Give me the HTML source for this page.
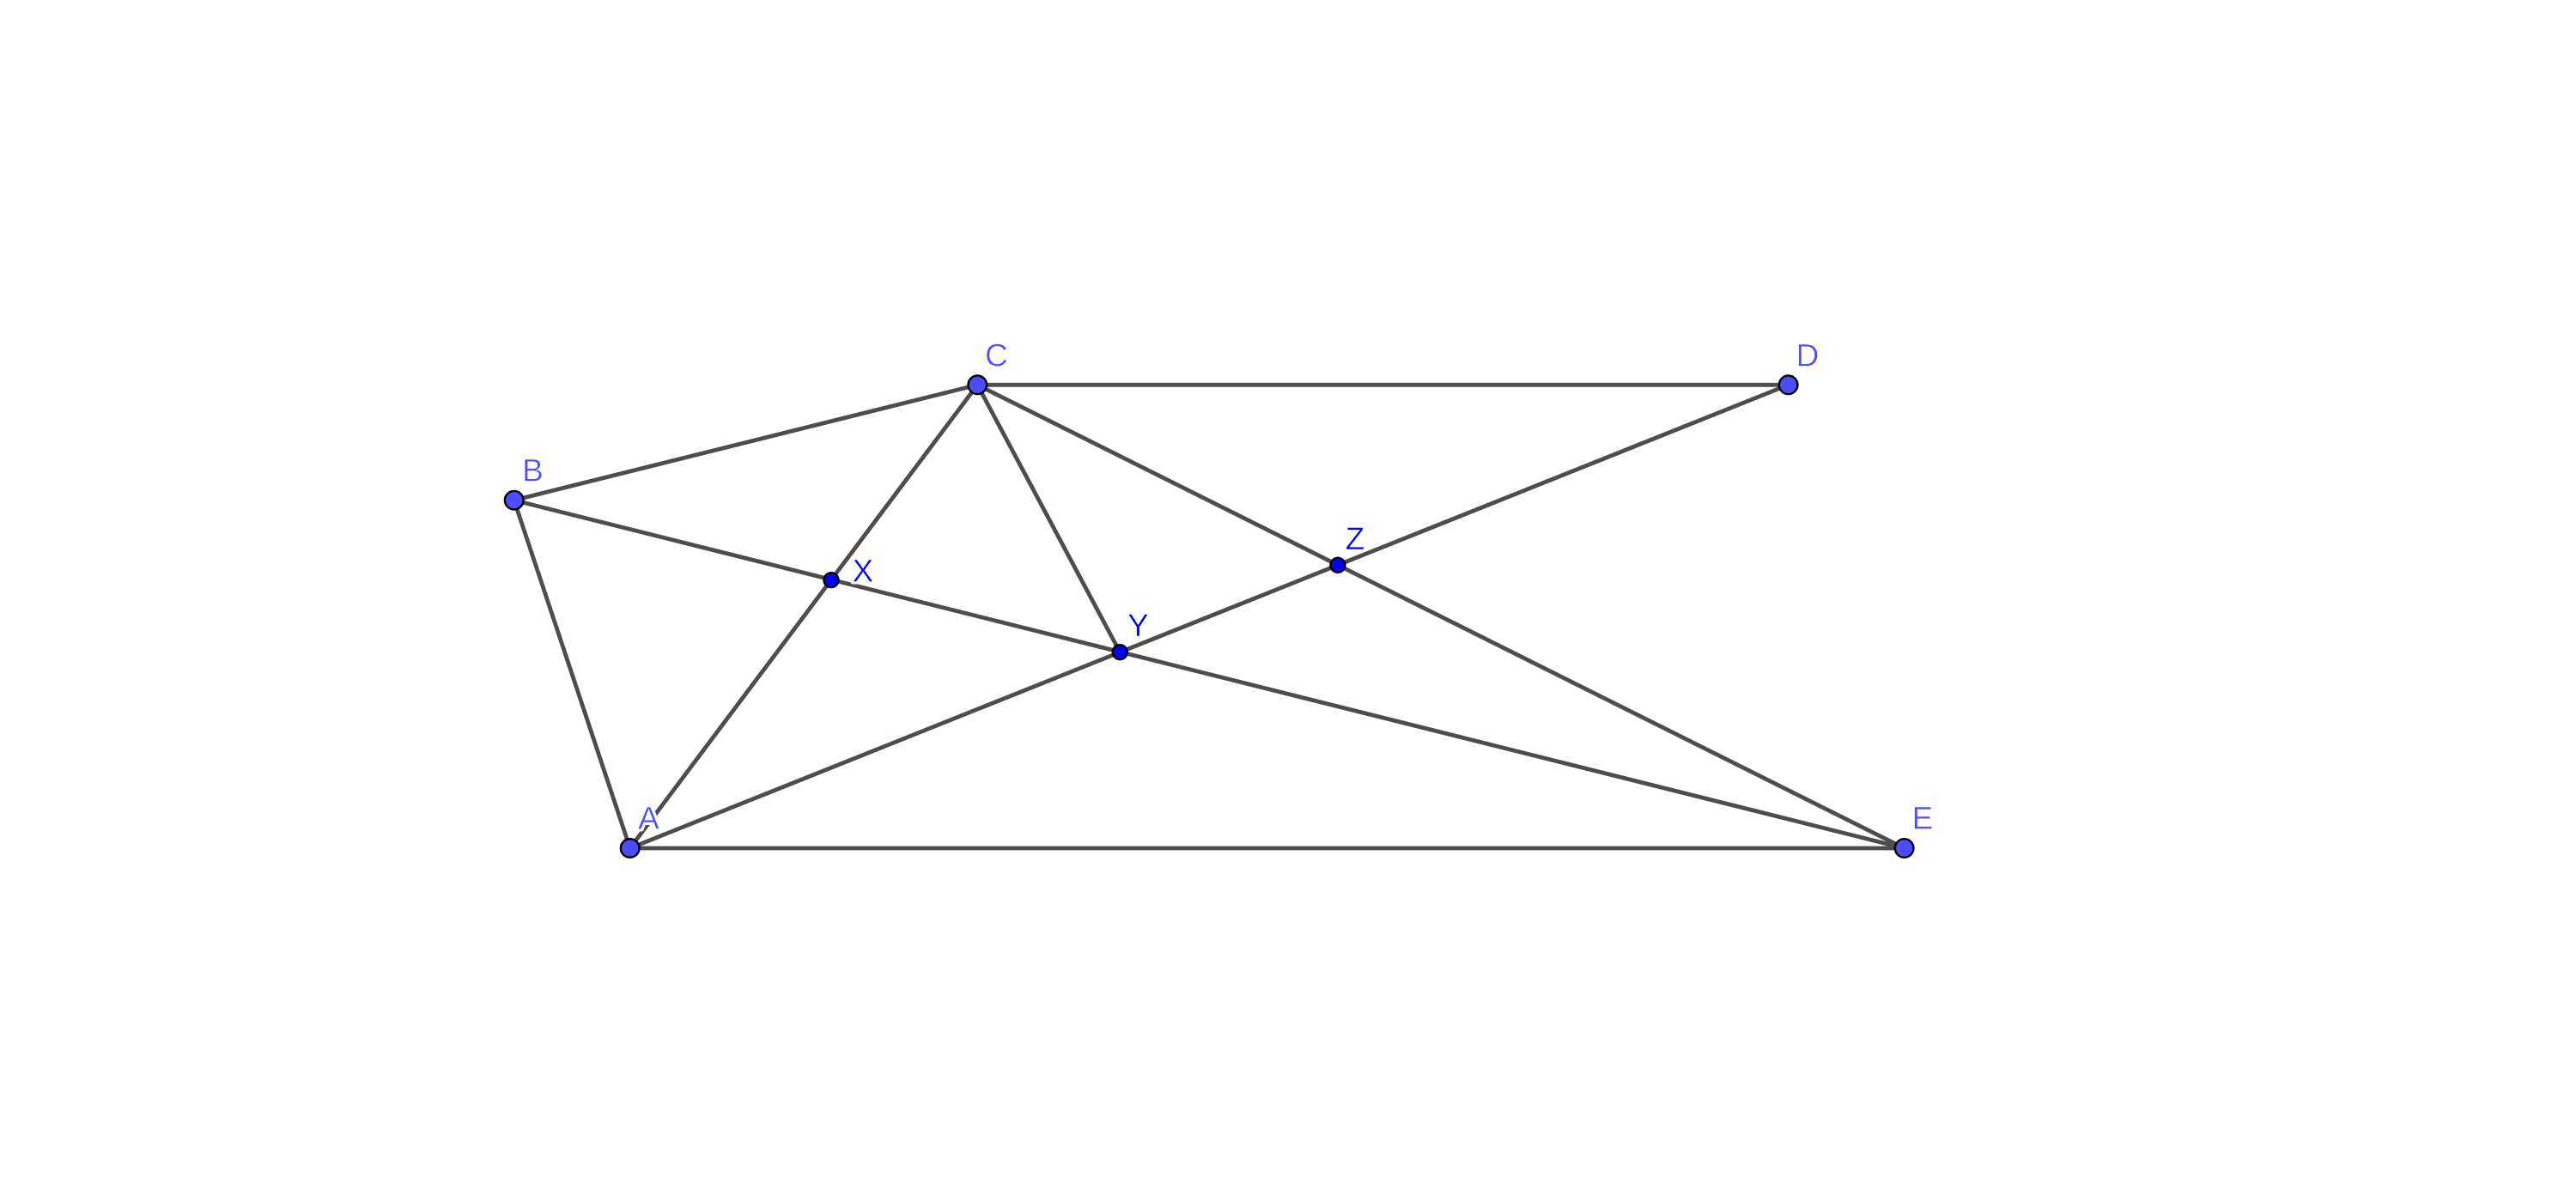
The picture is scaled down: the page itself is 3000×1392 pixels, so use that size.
<!DOCTYPE html>
<html>
<head>
<meta charset="utf-8">
<style>
html,body{margin:0;padding:0;background:#fff;width:3000px;height:1392px;overflow:hidden}
svg{display:block}
text{font-family:"Liberation Sans",sans-serif;font-size:37px;text-anchor:middle}
.h{fill:#fff;stroke:#fff;stroke-width:6px;stroke-linejoin:round}
.a{fill:#4d4dff;stroke:#fff;stroke-width:.5px;paint-order:fill stroke}
.b{fill:#0000ff;stroke:#fff;stroke-width:.5px;paint-order:fill stroke}
line{stroke:#4d4d4d;stroke-width:4.8px}
circle{stroke:#000;stroke-width:2.4px}
</style>
</head>
<body>
<svg width="3000" height="1392" viewBox="0 0 3000 1392" xmlns="http://www.w3.org/2000/svg">
<rect width="3000" height="1392" fill="#fff"/>
<line x1="598.7" y1="582.7" x2="733.7" y2="988"/>
<line x1="598.7" y1="582.7" x2="1138.3" y2="448.3"/>
<line x1="598.7" y1="582.7" x2="2217.7" y2="988"/>
<line x1="1138.3" y1="448.3" x2="733.7" y2="988"/>
<line x1="1138.3" y1="448.3" x2="2082.7" y2="448.3"/>
<line x1="1138.3" y1="448.3" x2="2217.7" y2="988"/>
<line x1="1138.3" y1="448.3" x2="1304.3" y2="759.7"/>
<line x1="733.7" y1="988" x2="2082.7" y2="448.3"/>
<line x1="733.7" y1="988" x2="2217.7" y2="988"/>

<text class="h" x="620.5" y="560.7">B</text>
<text class="h" x="755.5" y="965.7">A</text>
<text class="h" x="1160.5" y="426.3">C</text>
<text class="h" x="2105" y="426.7">D</text>
<text class="h" x="2239" y="965.3">E</text>
<text class="h" x="1005" y="677.7">X</text>
<text class="h" x="1325.5" y="741">Y</text>
<text class="h" x="1578" y="640">Z</text>

<text class="a" x="620.5" y="560.7">B</text>
<text class="a" x="755.5" y="965.7">A</text>
<text class="a" x="1160.5" y="426.3">C</text>
<text class="a" x="2105" y="426.7">D</text>
<text class="a" x="2239" y="965.3">E</text>
<text class="b" x="1005" y="677.7">X</text>
<text class="b" x="1325.5" y="741">Y</text>
<text class="b" x="1578" y="640">Z</text>

<circle cx="598.7" cy="582.7" r="10.8" fill="#4d4dff"/>
<circle cx="733.7" cy="988" r="10.8" fill="#4d4dff"/>
<circle cx="1138.3" cy="448.3" r="10.8" fill="#4d4dff"/>
<circle cx="2082.7" cy="448.3" r="10.8" fill="#4d4dff"/>
<circle cx="2217.7" cy="988" r="10.8" fill="#4d4dff"/>
<circle cx="968" cy="675.7" r="8.5" fill="#0000ff"/>
<circle cx="1304.3" cy="759.7" r="8.5" fill="#0000ff"/>
<circle cx="1558" cy="658.3" r="8.5" fill="#0000ff"/>
</svg>
</body>
</html>
